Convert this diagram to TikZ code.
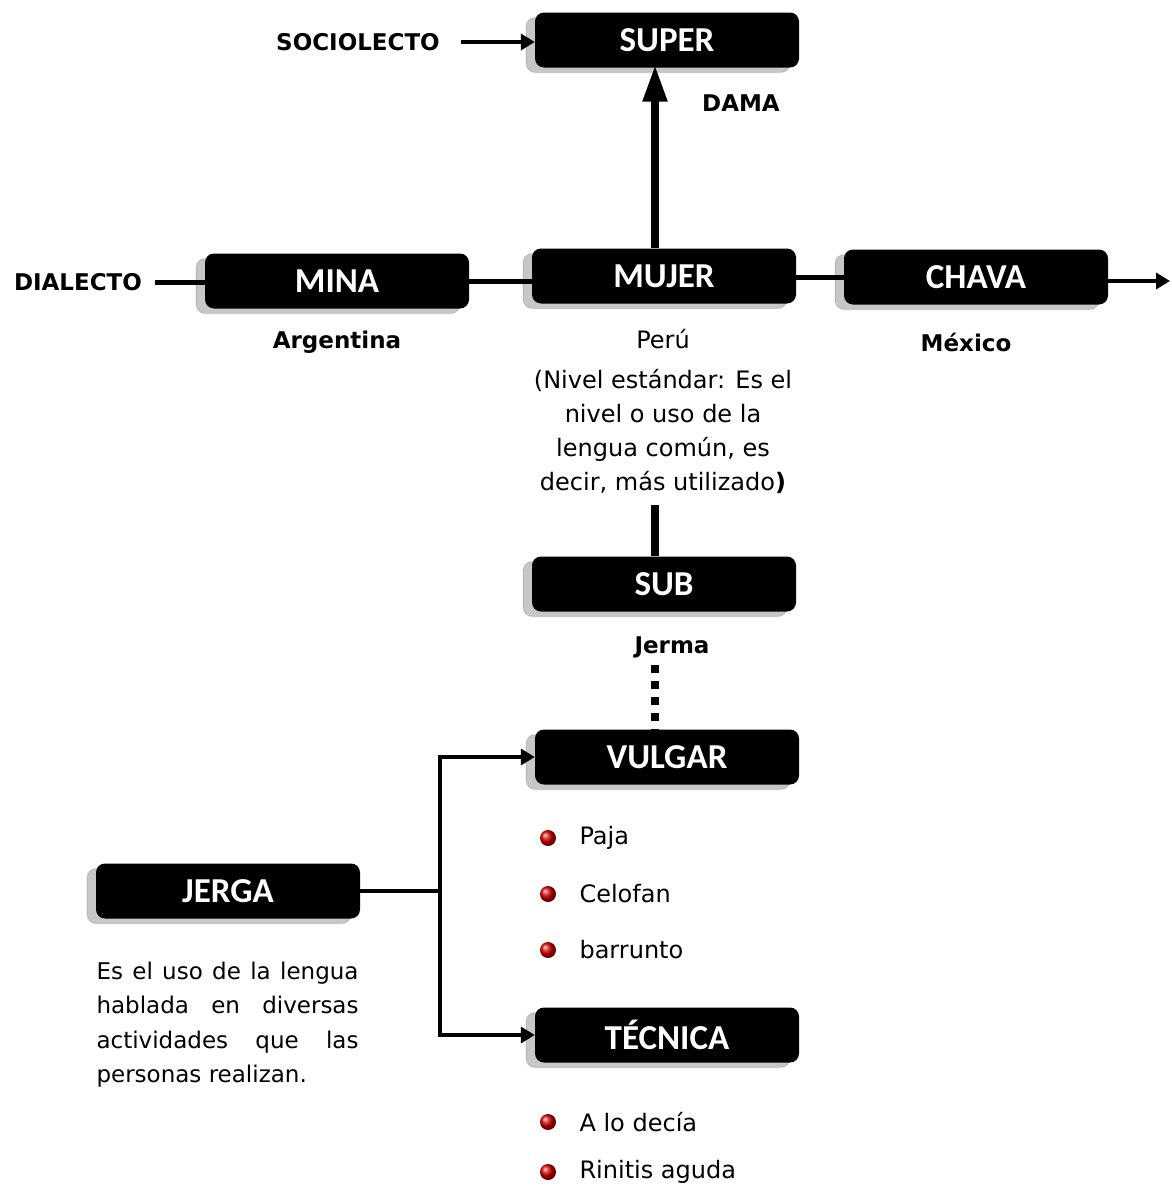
\documentclass[tikz,border=0pt]{standalone}
\usepackage{fontspec}
\setmainfont{DejaVu Sans}
\newfontfamily\cajafont{Carlito}
\usetikzlibrary{arrows.meta}
\usetikzlibrary{shadows,backgrounds}

\tikzset{
 tema/.style={rounded corners=9pt, fill=black, text=white, minimum width=264pt,
   minimum height=55pt, inner sep=0pt, font=\cajafont\bfseries\fontsize{35}{35}\selectfont,
   general shadow={shadow xshift=-9pt, shadow yshift=-5pt, fill=black, fill opacity=0.22,
     draw=black, draw opacity=0.08, line width=1.5pt}},
 etiq/.style={font=\bfseries\fontsize{23}{24}\selectfont},
 texto/.style={font=\fontsize{24}{34}\selectfont},
 bola/.style={circle, inner sep=0pt, minimum size=16pt, shading=ball, ball color=red!85!black},
 conec/.style={line width=5pt},
 flecha/.style={line width=4pt, -{Triangle[length=14pt,width=16pt]}},
}

\begin{document}
\begin{tikzpicture}[x=1pt, y=-1pt]
\useasboundingbox (0,0) rectangle (1172,1186);

% cajas
\node[tema] (super) at (667,40) {SUPER};
\node[tema] (mina) at (337,281) {MINA};
\node[tema] (mujer) at (664,276) {MUJER};
\node[tema] (chava) at (976,277) {CHAVA};
\node[tema] (sub) at (664,584) {SUB};
\node[tema] (vulgar) at (667,757) {VULGAR};
\node[tema] (jerga) at (228,891) {JERGA};
\node[tema] (tecnica) at (667,1035) {TÉCNICA};

% etiquetas
\node[etiq] (socio) at (358,42) {SOCIOLECTO};
\node[etiq] (dama) at (741,103) {DAMA};
\node[etiq] (dialecto) at (78,282) {DIALECTO};
\node[etiq] (argentina) at (337,342) {Argentina};
\node[etiq] (mexico) at (966,342) {México};
\node[etiq] (jerma) at (672,647) {Jerma};
\node[texto, align=center, anchor=north] (peru) at (663,326)
  {Perú\\[6pt](Nivel estándar: Es el\\nivel o uso de la\\lengua común, es\\decir, más utilizado\textbf{)}};
\node[texto, font=\fontsize{23}{34.5}\selectfont, text width=262pt, align=justify, anchor=north west] (defjerga) at (93,958)
  {Es el uso de la lengua\linebreak hablada en diversas\linebreak actividades que las\linebreak personas realizan.};

% listas
\foreach \txt [count=\i] in {Paja,Celofan,barrunto} {
 \node[bola] (bv\i) at (548,782+56*\i) {};
 \node[texto, anchor=west] (v\i) at (576,782+56*\i) {\txt};
}
\foreach \txt [count=\i] in {A lo decía,Rinitis aguda} {
 \node[bola] (bt\i) at (548,1072+50*\i) {};
 \node[texto, anchor=west] (t\i) at (576,1072+50*\i) {\txt};
}

% conectores
\coordinate (eje) at (655,0);
\coordinate (fin) at (1170,281);
\coordinate (rama) at (440,891);
\begin{scope}[on background layer]
\draw[flecha] ([xshift=18pt]socio.east) -- (super.west |- socio);
\draw[line width=8pt, -{Triangle[length=37pt,width=23pt]}] (mujer.north -| eje) -- ([yshift=3pt]super.south -| eje);
\draw[conec] ([xshift=9pt]dialecto.east) -- (mina.west |- dialecto);
\draw[conec] (mina.east) -- (mujer.west |- mina);
\draw[conec] (mujer.east |- chava) -- (chava.west);
\draw[flecha] (chava.east |- fin) -- (fin);
\draw[line width=8pt] ([yshift=-8pt]peru.south -| eje) -- (sub.north -| eje);
\draw[line width=8pt, dash pattern=on 8pt off 8pt] ([yshift=-4pt]jerma.south -| eje) -- (vulgar.north -| eje);
\draw[line width=4pt] (jerga.east) -- (rama);
\draw[flecha] (rama) |- (vulgar.west);
\draw[flecha] (rama) |- (tecnica.west);
\end{scope}
\end{tikzpicture}
\end{document}
